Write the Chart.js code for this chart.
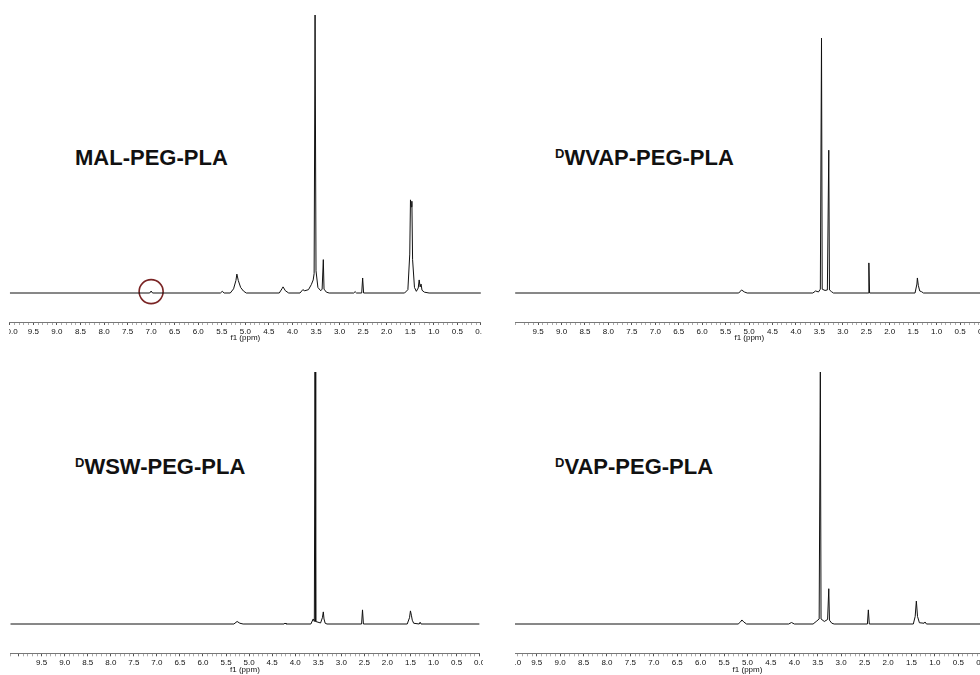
<!DOCTYPE html>
<html><head><meta charset="utf-8">
<script src="https://cdn.jsdelivr.net/npm/chart.js@4.4.1/dist/chart.umd.min.js"></script>
<style>
html,body{margin:0;padding:0;background:#fff;width:980px;height:675px;overflow:hidden;position:relative;}
.clip{position:absolute;overflow:hidden;}
.clip canvas{position:absolute;}
.lbl{position:absolute;font-family:"Liberation Sans",Arial,sans-serif;font-weight:bold;font-size:22px;line-height:22px;color:#111;white-space:nowrap;}
.lbl .sup{font-size:13px;position:relative;top:-7px;}
</style></head><body>
<div class="lbl" style="left:75px;top:147px;">MAL-PEG-PLA</div>
<div class="lbl" style="left:555px;top:147px;"><span class="sup">D</span>WVAP-PEG-PLA</div>
<div class="lbl" style="left:75px;top:456px;"><span class="sup">D</span>WSW-PEG-PLA</div>
<div class="lbl" style="left:555px;top:456px;"><span class="sup">D</span>VAP-PEG-PLA</div>
<div class="clip" id="k1"><canvas id="c1"></canvas></div>
<div class="clip" id="k2"><canvas id="c2"></canvas></div>
<div class="clip" id="k3"><canvas id="c3"></canvas></div>
<div class="clip" id="k4"><canvas id="c4"></canvas></div>
<script>
// ---- data (chemical shift in ppm, relative intensity, tallest peak = 100) ----
const tickLabelsFull = ['10.0','9.5','9.0','8.5','8.0','7.5','7.0','6.5','6.0','5.5','5.0','4.5','4.0','3.5','3.0','2.5','2.0','1.5','1.0','0.5','0.0'];
const tickLabelsNo10 = ['9.5','9.0','8.5','8.0','7.5','7.0','6.5','6.0','5.5','5.0','4.5','4.0','3.5','3.0','2.5','2.0','1.5','1.0','0.5','0.0'];
const axisTitle = 'f1 (ppm)';

const malPpm = [10.00,7.03,7.00,6.97,5.53,5.49,5.45,5.32,5.25,5.20,5.18,5.15,5.10,5.04,4.98,4.28,4.22,4.20,4.15,4.08,3.84,3.78,3.74,3.66,3.60,3.56,3.54,3.52,3.50,3.46,3.40,3.37,3.345,3.33,3.28,3.22,2.70,2.67,2.64,2.53,2.51,2.49,1.62,1.55,1.51,1.495,1.48,1.465,1.45,1.41,1.37,1.33,1.31,1.29,1.27,1.25,1.20,1.10,0.00];
const malInt = [0,0,0.7,0,0,0.6,0,0,1.5,4.5,6.8,4.5,2.0,0.7,0,0,1.6,2.2,0.8,0,0,1.2,0.8,1.2,3.0,4.7,7.0,100,8.0,2.0,0.8,1.4,12,1.4,0.3,0,0,0.5,0,0,5.4,0,0,1.2,14,33.5,31,33,12,2.0,0.6,1.8,4.7,2.2,3.2,1.0,0.3,0,0];
const malMarkPpm = [7.0];
const malMarkInt = [0.5];

const wvapPpm = [9.99,5.22,5.16,5.10,5.04,3.64,3.58,3.52,3.48,3.455,3.44,3.38,3.33,3.30,3.285,3.24,3.20,2.46,2.445,2.43,1.46,1.42,1.41,1.39,1.36,1.32,1.28,0.00];
const wvapInt = [0,0,1.2,0.4,0,0,0.8,0.4,1.5,100,1.5,1.0,1.2,56,1.2,0.5,0,0,11.8,0,0,3.5,5.9,3.0,0.8,0.5,0,0];

const wswPpm = [10.18,5.33,5.26,5.20,5.13,4.24,4.22,4.20,3.66,3.61,3.585,3.57,3.555,3.45,3.41,3.39,3.375,3.35,3.31,2.56,2.54,2.52,1.57,1.52,1.50,1.48,1.46,1.43,1.31,1.29,1.27,0.00];
const wswInt = [0,0,1.0,0.3,0,0,0.4,0,0,2.0,1.0,100,1.0,0.4,2.5,4.8,2.0,0.3,0,0,5.6,0,0,2.5,5.2,3.5,1.5,0.3,0,0.7,0,0];

const vapPpm = [10.00,5.20,5.15,5.12,5.08,5.02,4.12,4.06,4.00,3.60,3.52,3.47,3.445,3.43,3.36,3.29,3.265,3.25,3.20,3.15,2.44,2.42,2.40,1.46,1.42,1.395,1.37,1.33,1.23,1.21,1.18,0.00];
const vapInt = [0,0,0.8,1.6,0.8,0,0,0.6,0,0,1.2,2.0,100,2.0,1.0,1.8,14,1.5,0.3,0,0,5.6,0,0,3.0,9.1,3.0,0.5,0.3,0.8,0,0];

// ---- layout (pixels) ----
const AXIS_BOX = 21, PAD = 30;
const panels = [
  {k:'k1', c:'c1', ppm:malPpm, int:malInt, mark:[malMarkPpm, malMarkInt], labels:tickLabelsFull, clip:[9,0,473,345], left:9.8, right:480.9, top:0, axis:322, base:293, scale:2.78, xMax:10},
  {k:'k2', c:'c2', ppm:wvapPpm, int:wvapInt, labels:tickLabelsNo10, clip:[513,0,467,345], left:515.1, right:983.5, top:0, axis:322, base:293, scale:2.55, xMax:9.99},
  {k:'k3', c:'c3', ppm:wswPpm, int:wswInt, labels:tickLabelsNo10, clip:[10,345,473,330], left:10.3, right:479.6, top:345, axis:653.3, base:624, scale:2.52, xMax:10.18},
  {k:'k4', c:'c4', ppm:vapPpm, int:vapInt, labels:tickLabelsFull, clip:[515,345,465,330], left:513.3, right:981.7, top:345, axis:653.3, base:624, scale:2.52, xMax:10}
];

const isMajor = v => Math.abs(v * 2 - Math.round(v * 2)) < 1e-6;
const FONT = {family:'"Liberation Sans", Arial, sans-serif', size:8};

panels.forEach(p => {
  const box = document.getElementById(p.k);
  box.style.left = p.clip[0] + 'px'; box.style.top = p.clip[1] + 'px';
  box.style.width = p.clip[2] + 'px'; box.style.height = p.clip[3] + 'px';
  const cv = document.getElementById(p.c);
  const cLeft = Math.floor(p.left - PAD);
  const cW = Math.ceil(p.right + PAD) - cLeft;
  const cTop = p.top;
  const cH = Math.ceil(p.axis - p.top + AXIS_BOX);
  cv.width = cW; cv.height = cH;
  cv.style.width = cW + 'px'; cv.style.height = cH + 'px';
  cv.style.left = (cLeft - p.clip[0]) + 'px'; cv.style.top = (cTop - p.clip[1]) + 'px';
  const padL = p.left - cLeft, padR = cLeft + cW - p.right;
  const padB = cH - (p.axis - p.top) - AXIS_BOX;

  const datasets = [{
    data: p.ppm.map((x, i) => ({x, y: p.int[i]})),
    showLine: true, borderColor: '#111', borderWidth: 1, pointRadius: 0, fill: false, tension: 0
  }];
  if (p.mark) {
    datasets.push({
      data: p.mark[0].map((x, i) => ({x, y: p.mark[1][i]})),
      showLine: false, pointRadius: 12, pointBorderWidth: 1.6,
      pointBorderColor: '#7a2424', pointBackgroundColor: 'rgba(0,0,0,0)', clip: false
    });
  }
  new Chart(cv, {
    type: 'scatter',
    data: {datasets},
    options: {
      responsive: false, animation: false, events: [],
      layout: {autoPadding: false, padding: {left: padL, right: padR, top: 0, bottom: padB}},
      plugins: {legend: {display: false}, tooltip: {enabled: false}},
      scales: {
        x: {
          type: 'linear', reverse: true, min: 0, max: p.xMax,
          afterFit: s => { s.height = AXIS_BOX; },
          border: {display: true, color: '#777', width: 1},
          grid: {display: true, drawOnChartArea: false, drawTicks: true, tickLength: 3,
                 tickColor: ctx => (ctx.tick && isMajor(ctx.tick.value)) ? '#555' : '#aaa', tickWidth: 1},
          ticks: {stepSize: 0.1, autoSkip: false, maxRotation: 0, minRotation: 0, padding: 2, color: '#111', font: FONT,
                  callback: v => { const l = Number(v).toFixed(1); return (isMajor(v) && p.labels.includes(l)) ? l : ''; }},
          title: {display: true, text: axisTitle, color: '#111', font: FONT, padding: {top: 0, bottom: 0}}
        },
        y: {display: false, min: -(p.axis - p.base) / p.scale, max: (p.base - p.top) / p.scale}
      }
    }
  });
});
</script>
</body></html>
